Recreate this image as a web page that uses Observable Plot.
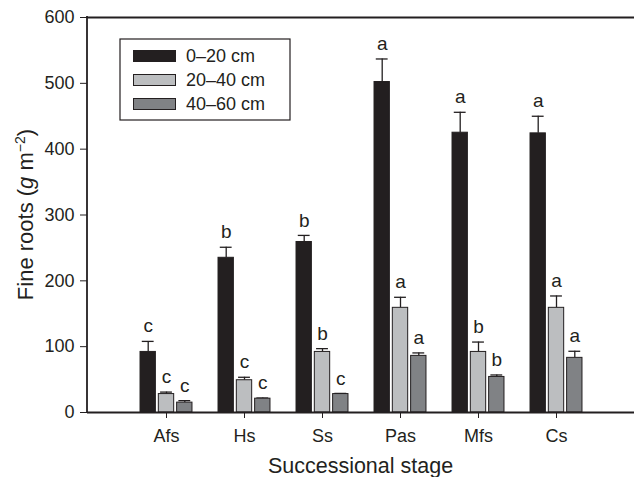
<!DOCTYPE html>
<html>
<head>
<meta charset="utf-8">
<script src="https://cdn.jsdelivr.net/npm/d3@7"></script>
<script src="https://cdn.jsdelivr.net/npm/@observablehq/plot@0.6"></script>
<style>
  html, body { margin: 0; padding: 0; background: #fff; }
  #chart { width: 634px; height: 477px; }
  svg { font-family: "Liberation Sans", Arial, Helvetica, sans-serif; }
</style>
</head>
<body>
<div id="chart"></div>
<script>
const stages = ["Afs", "Hs", "Ss", "Pas", "Mfs", "Cs"];
const depths = ["0–20 cm", "20–40 cm", "40–60 cm"];
const yTicks = [0, 100, 200, 300, 400, 500, 600];

const mean0_20 = [92, 235, 259, 502, 425, 424];
const se0_20 = [16, 16, 10, 35, 31, 26];
const letters0_20 = ["c", "b", "b", "a", "a", "a"];

const mean20_40 = [28, 49, 92, 159, 92, 159];
const se20_40 = [3, 4.5, 5, 16, 15, 18];
const letters20_40 = ["c", "c", "b", "a", "b", "a"];

const mean40_60 = [15, 21, 28, 86, 54, 83];
const se40_60 = [3, 1, 1, 4.5, 3, 10];
const letters40_60 = ["c", "c", "c", "a", "b", "a"];

const colors = ["#231f20", "#bcbec0", "#808285"];
const ink = "#231f20";

const seriesMeans = [mean0_20, mean20_40, mean40_60];
const seriesSE = [se0_20, se20_40, se40_60];
const seriesLetters = [letters0_20, letters20_40, letters40_60];
const offsets = [-18.3, 0, 18.3];

const W = 634, H = 477;
const mL = 87, mR = 0, mT = 17, mB = 65;
const step = (W - mL - mR) / (stages.length + 1);
const barW = 15.5, capW = 12;
const barInset = (step - barW) / 2;
const capInset = (step - capW) / 2;

const marks = [];
depths.forEach((depth, i) => {
  const data = stages.map((s, j) => ({
    stage: s, depth, mean: seriesMeans[i][j], se: seriesSE[i][j], letter: seriesLetters[i][j]
  }));
  marks.push(Plot.ruleX(data, {x: "stage", y1: "mean", y2: d => d.mean + d.se, dx: offsets[i], stroke: ink, strokeWidth: 1.3}));
  marks.push(Plot.tickY(data, {x: "stage", y: d => d.mean + d.se, dx: offsets[i], insetLeft: capInset, insetRight: capInset, stroke: ink, strokeWidth: 1.3}));
  marks.push(Plot.barY(data, {x: "stage", y: "mean", fill: colors[i], stroke: ink, strokeWidth: 1, dx: offsets[i], insetLeft: barInset, insetRight: barInset}));
  marks.push(Plot.text(data, {x: "stage", y: d => d.mean + d.se, text: "letter", dx: offsets[i], dy: -15, fontSize: 19, fill: ink}));
});
marks.push(Plot.ruleY([0], {stroke: ink, strokeWidth: 1.8}));
marks.push(Plot.ruleY([600], {stroke: ink, strokeWidth: 1.8}));

const plot = Plot.plot({
  width: W, height: H,
  marginLeft: mL, marginRight: mR, marginTop: mT, marginBottom: mB,
  style: {fontSize: "18px", fontFamily: "'Liberation Sans', Arial, Helvetica, sans-serif", color: ink, background: "#fff", overflow: "visible"},
  x: {domain: stages, paddingInner: 0, paddingOuter: 0.5, align: 0.5, label: null, tickSize: 6, tickPadding: 11},
  y: {domain: [0, 600], ticks: yTicks, tickSize: 7, tickPadding: 6, label: null},
  marks
});

const svg = d3.select(plot);
const ys = plot.scale("y");
// left axis line
svg.append("line")
  .attr("x1", mL).attr("x2", mL)
  .attr("y1", ys.apply(0) + 0.9).attr("y2", ys.apply(600) - 0.9)
  .attr("stroke", ink).attr("stroke-width", 1.8);

// axis titles
svg.append("text")
  .attr("x", mL + (W - mL - mR) / 2).attr("y", H - 4)
  .attr("text-anchor", "middle").attr("font-size", 21.5).attr("fill", ink)
  .text("Successional stage");

const yl = svg.append("text")
  .attr("transform", `translate(33,${(ys.apply(0) + ys.apply(600)) / 2}) rotate(-90)`)
  .attr("text-anchor", "middle").attr("font-size", 22).attr("fill", ink);
yl.append("tspan").text("Fine roots (");
yl.append("tspan").attr("font-style", "italic").text("g");
yl.append("tspan").text(" m");
yl.append("tspan").attr("font-size", 14).attr("dy", "-0.6em").text("−2");
yl.append("tspan").attr("dy", "0.38em").text(")");

// legend
const lg = svg.append("g").attr("transform", "translate(120,39)");
lg.append("rect").attr("width", 170).attr("height", 81).attr("fill", "#fff").attr("stroke", ink).attr("stroke-width", 1.2);
depths.forEach((d, i) => {
  const cy = 17 + i * 24;
  lg.append("rect").attr("x", 13.5).attr("y", cy - 5.5).attr("width", 42).attr("height", 11)
    .attr("fill", colors[i]).attr("stroke", ink).attr("stroke-width", 1);
  lg.append("text").attr("x", 66).attr("y", cy).attr("dy", "0.35em")
    .attr("text-anchor", "start")
    .attr("font-size", 18).attr("fill", ink).text(d);
});

document.getElementById("chart").appendChild(plot);
</script>
</body>
</html>
